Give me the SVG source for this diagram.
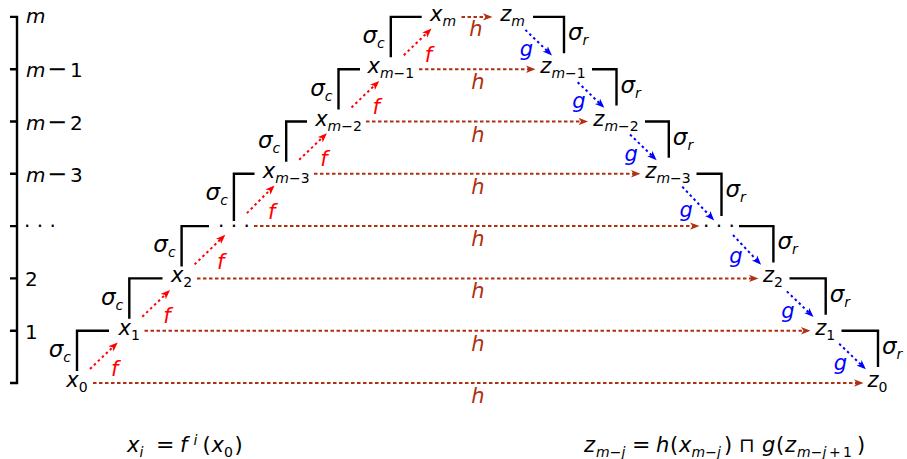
<svg xmlns="http://www.w3.org/2000/svg" width="907" height="459" viewBox="0 0 907 459">
<style>
text{font-family:"DejaVu Sans",sans-serif;font-size:21px;fill:#000}
.ax{font-size:20px}
.it{font-style:italic}
.sb{font-size:14px}
.sg{font-size:23px;font-style:italic}
.mid{text-anchor:middle}
.end{text-anchor:end}
.br{fill:none;stroke:#000;stroke-width:2.4;stroke-linejoin:miter}
.f{fill:none;stroke:#ff0000;stroke-width:2;stroke-dasharray:2.5 3;marker-end:url(#af)}
.g{fill:none;stroke:#0000ff;stroke-width:2;stroke-dasharray:2.5 3;marker-end:url(#ag)}
.h{fill:none;stroke:#b03010;stroke-width:2;stroke-dasharray:3.5 2.5;marker-end:url(#ah)}
.fl{fill:#ff0000;font-style:italic}
.gl{fill:#0000ff;font-style:italic}
.hl{fill:#b03010;font-style:italic;text-anchor:middle}
</style>
<defs>
<marker id="af" markerUnits="userSpaceOnUse" markerWidth="12" markerHeight="10" refX="6" refY="4" orient="auto" viewBox="0 0 12 10"><path d="M0,0.3 L9.5,4 L0,7.7 L2.5,4 z" fill="#ff0000"/></marker>
<marker id="ag" markerUnits="userSpaceOnUse" markerWidth="12" markerHeight="10" refX="6" refY="4" orient="auto" viewBox="0 0 12 10"><path d="M0,0.3 L9.5,4 L0,7.7 L2.5,4 z" fill="#0000ff"/></marker>
<marker id="ah" markerUnits="userSpaceOnUse" markerWidth="12" markerHeight="10" refX="6" refY="4" orient="auto" viewBox="0 0 12 10"><path d="M0,0.3 L9.5,4 L0,7.7 L2.5,4 z" fill="#b03010"/></marker>
</defs>

<g id="axis">
<path class="br" d="M10,16.9 H17 V383 H10"/>
<path class="br" d="M10,69.2 H17 M10,121.5 H17 M10,173.8 H17 M10,226.1 H17 M10,278.4 H17 M10,330.7 H17"/>
<text class="ax it" x="26" y="23">m</text>
<text class="ax" x="26" y="77.2"><tspan class="it">m</tspan><tspan x="47" font-size="24">−</tspan><tspan x="70">1</tspan></text>
<text class="ax" x="26" y="129.5"><tspan class="it">m</tspan><tspan x="47" font-size="24">−</tspan><tspan x="70">2</tspan></text>
<text class="ax" x="26" y="181.8"><tspan class="it">m</tspan><tspan x="47" font-size="24">−</tspan><tspan x="70">3</tspan></text>
<text class="ax" x="24" y="232.6">· · ·</text>
<text class="ax" x="25" y="286.4">2</text>
<text class="ax" x="25" y="338.7">1</text>
</g>

<g id="x0"><text class="mid" x="77" y="387"><tspan class="it">x</tspan><tspan class="sb" dy="5">0</tspan></text></g>
<g id="x1"><text class="mid" x="129.3" y="334.7"><tspan class="it">x</tspan><tspan class="sb" dy="5">1</tspan></text></g>
<g id="x2"><text class="mid" x="181.6" y="282.4"><tspan class="it">x</tspan><tspan class="sb" dy="5">2</tspan></text></g>
<g id="xdots"><text class="mid ax" x="233.9" y="232.6">· · ·</text></g>
<g id="xm3"><text class="mid" x="286.2" y="177.8"><tspan class="it">x</tspan><tspan class="sb it" dy="5">m</tspan><tspan class="sb">−3</tspan></text></g>
<g id="xm2"><text class="mid" x="338.5" y="125.5"><tspan class="it">x</tspan><tspan class="sb it" dy="5">m</tspan><tspan class="sb">−2</tspan></text></g>
<g id="xm1"><text class="mid" x="390.8" y="73.2"><tspan class="it">x</tspan><tspan class="sb it" dy="5">m</tspan><tspan class="sb">−1</tspan></text></g>
<g id="xm"><text class="mid" x="443.1" y="20.9"><tspan class="it">x</tspan><tspan class="sb it" dy="5">m</tspan></text></g>

<g id="z0"><text class="mid" x="877.5" y="387"><tspan class="it">z</tspan><tspan class="sb" dy="5">0</tspan></text></g>
<g id="z1"><text class="mid" x="825.2" y="334.7"><tspan class="it">z</tspan><tspan class="sb" dy="5">1</tspan></text></g>
<g id="z2"><text class="mid" x="772.9" y="282.4"><tspan class="it">z</tspan><tspan class="sb" dy="5">2</tspan></text></g>
<g id="zdots"><text class="mid ax" x="719" y="232.6">· · ·</text></g>
<g id="zm3"><text class="mid" x="668" y="177.8"><tspan class="it">z</tspan><tspan class="sb it" dy="5">m</tspan><tspan class="sb">−3</tspan></text></g>
<g id="zm2"><text class="mid" x="616" y="125.5"><tspan class="it">z</tspan><tspan class="sb it" dy="5">m</tspan><tspan class="sb">−2</tspan></text></g>
<g id="zm1"><text class="mid" x="563" y="73.2"><tspan class="it">z</tspan><tspan class="sb it" dy="5">m</tspan><tspan class="sb">−1</tspan></text></g>
<g id="zm"><text class="mid" x="512.5" y="20.9"><tspan class="it">z</tspan><tspan class="sb it" dy="5">m</tspan></text></g>

<g id="brackets-c">
<path class="br" d="M77,371 V330.7 H109"/>
<path class="br" d="M129.3,318.7 V278.4 H162.5"/>
<path class="br" d="M181.6,266.4 V226.1 H209"/>
<path class="br" d="M233.9,221 V173.8 H254.5"/>
<path class="br" d="M286.2,161.8 V121.5 H307"/>
<path class="br" d="M338.5,109.5 V69.2 H360"/>
<path class="br" d="M390.8,57.2 V16.9 H421.7"/>
<text class="end" x="71" y="357"><tspan class="sg">σ</tspan><tspan class="sb it" dy="5">c</tspan></text>
<text class="end" x="123.3" y="304.7"><tspan class="sg">σ</tspan><tspan class="sb it" dy="5">c</tspan></text>
<text class="end" x="175.6" y="252.4"><tspan class="sg">σ</tspan><tspan class="sb it" dy="5">c</tspan></text>
<text class="end" x="227.9" y="200.1"><tspan class="sg">σ</tspan><tspan class="sb it" dy="5">c</tspan></text>
<text class="end" x="280.2" y="147.8"><tspan class="sg">σ</tspan><tspan class="sb it" dy="5">c</tspan></text>
<text class="end" x="332.5" y="95.5"><tspan class="sg">σ</tspan><tspan class="sb it" dy="5">c</tspan></text>
<text class="end" x="384.8" y="43.2"><tspan class="sg">σ</tspan><tspan class="sb it" dy="5">c</tspan></text>
</g>

<g id="brackets-r">
<path class="br" d="M841.5,330.7 H878 V367"/>
<path class="br" d="M789.5,278.4 H825.7 V314.7"/>
<path class="br" d="M739,226.1 H773.4 V262.4"/>
<path class="br" d="M696.5,173.8 H721.5 V216"/>
<path class="br" d="M645,121.5 H668.8 V157.8"/>
<path class="br" d="M592,69.2 H616.5 V105.5"/>
<path class="br" d="M533,16.9 H564 V53.2"/>
<text x="882" y="354"><tspan class="sg">σ</tspan><tspan class="sb it" dy="5">r</tspan></text>
<text x="829.7" y="301.7"><tspan class="sg">σ</tspan><tspan class="sb it" dy="5">r</tspan></text>
<text x="777.4" y="249.4"><tspan class="sg">σ</tspan><tspan class="sb it" dy="5">r</tspan></text>
<text x="725.5" y="197.1"><tspan class="sg">σ</tspan><tspan class="sb it" dy="5">r</tspan></text>
<text x="672.8" y="144.8"><tspan class="sg">σ</tspan><tspan class="sb it" dy="5">r</tspan></text>
<text x="620.5" y="92.5"><tspan class="sg">σ</tspan><tspan class="sb it" dy="5">r</tspan></text>
<text x="568" y="40.2"><tspan class="sg">σ</tspan><tspan class="sb it" dy="5">r</tspan></text>
</g>

<g id="connectors">
<path class="h" d="M93,383 H860"/>
<path class="h" d="M144.5,330.7 H807"/>
<path class="h" d="M197,278.4 H755"/>
<path class="h" d="M254,226.1 H696"/>
<path class="h" d="M314,173.8 H637"/>
<path class="h" d="M366,121.5 H584.5"/>
<path class="h" d="M419,69.2 H532"/>
<path class="h" d="M461.5,16.9 H489"/>

<path class="f" d="M90,369 L115.2,344.8"/>
<path class="f" d="M142.3,316.7 L167.5,292.5"/>
<path class="f" d="M194.6,264.4 L222.8,237.2"/>
<path class="f" d="M246.9,213.1 L272.1,187.9"/>
<path class="f" d="M299.2,159.8 L324.4,135.6"/>
<path class="f" d="M351.5,107.5 L376.7,83.3"/>
<path class="f" d="M403.8,55.2 L429,31"/>

<path class="g" d="M525.4,29.9 L549.5,53.1"/>
<path class="g" d="M577.7,82.2 L601.8,105.4"/>
<path class="g" d="M630,134.5 L654.1,157.7"/>
<path class="g" d="M682.3,186.8 L711.8,217.9"/>
<path class="g" d="M733,235 L758.7,262.3"/>
<path class="g" d="M786.9,291.4 L811,314.6"/>
<path class="g" d="M839.2,343.7 L863.3,366.9"/>

<text class="hl" x="478" y="403">h</text>
<text class="hl" x="478" y="350.7">h</text>
<text class="hl" x="478" y="298.4">h</text>
<text class="hl" x="478" y="246.1">h</text>
<text class="hl" x="478" y="193.8">h</text>
<text class="hl" x="478" y="141.5">h</text>
<text class="hl" x="478" y="89.2">h</text>
<text class="hl" x="476" y="36.4">h</text>

<text class="fl mid" x="114.7" y="375.5">f</text>
<text class="fl mid" x="167" y="323.2">f</text>
<text class="fl mid" x="220.8" y="269.4">f</text>
<text class="fl mid" x="271.6" y="219.1">f</text>
<text class="fl mid" x="323.9" y="166.3">f</text>
<text class="fl mid" x="376.2" y="114">f</text>
<text class="fl mid" x="428.5" y="61.7">f</text>

<text class="gl mid" x="526.5" y="56">g</text>
<text class="gl mid" x="578.8" y="108.3">g</text>
<text class="gl mid" x="631.1" y="160.6">g</text>
<text class="gl mid" x="686.1" y="216.9">g</text>
<text class="gl mid" x="736" y="263.2">g</text>
<text class="gl mid" x="788" y="317.5">g</text>
<text class="gl mid" x="840.3" y="369.8">g</text>
</g>

<g id="formula-x">
<text x="127" y="452"><tspan class="it">x</tspan><tspan class="sb it" x="139.5" dy="5">i</tspan><tspan x="156" dy="-5" font-size="22">=</tspan><tspan class="it" x="180">f</tspan><tspan class="sb it" x="193.5" dy="-7">i</tspan><tspan x="202.5" dy="7">(</tspan><tspan class="it" x="211.5">x</tspan><tspan class="sb" x="224" dy="5">0</tspan><tspan x="234.5" dy="-5">)</tspan></text>
</g>
<g id="formula-z">
<text x="584" y="452"><tspan class="it">z</tspan><tspan class="sb it" x="596" dy="5">m</tspan><tspan class="sb">−</tspan><tspan class="sb it">j</tspan><tspan x="632" dy="-5" font-size="22">=</tspan><tspan class="it" x="656">h</tspan><tspan x="670">(</tspan><tspan class="it" x="679">x</tspan><tspan class="sb it" x="691.5" dy="5">m</tspan><tspan class="sb">−</tspan><tspan class="sb it">j</tspan><tspan x="724" dy="-5">)</tspan><tspan x="739" font-size="20">⊓</tspan><tspan class="it" x="762">g</tspan><tspan x="776">(</tspan><tspan class="it" x="785">z</tspan><tspan class="sb it" x="797" dy="5">m</tspan><tspan class="sb">−</tspan><tspan class="sb it">j</tspan><tspan class="sb" x="829">+</tspan><tspan class="sb" x="843">1</tspan><tspan x="857" dy="-5">)</tspan></text>
</g>
</svg>
